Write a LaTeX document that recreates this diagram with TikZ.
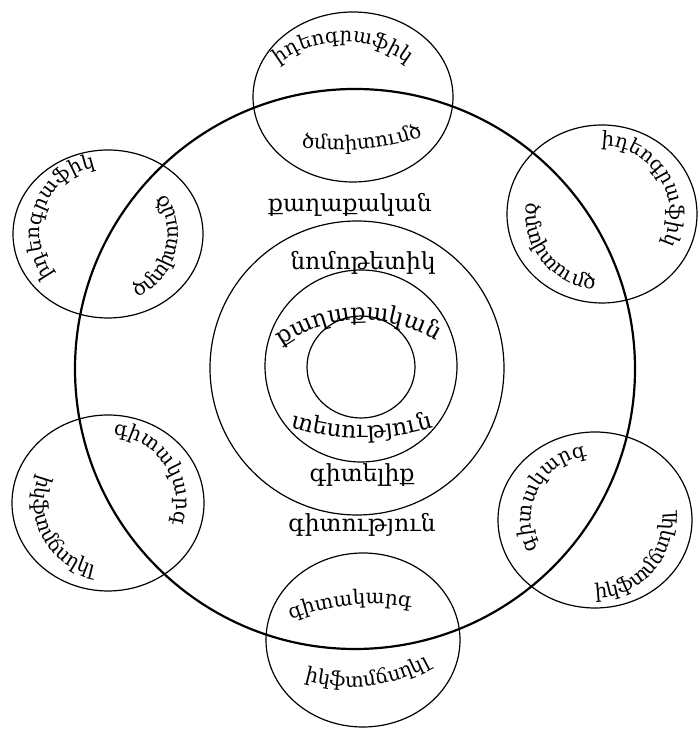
\documentclass[tikz,border=0pt]{standalone}
\usepackage{fontspec}
\setmainfont{DejaVu Serif}
\usetikzlibrary{decorations.text}
\newcommand\bigf{\fontsize{23.5}{26}\selectfont}
\newcommand\smf{\fontsize{20}{22}\selectfont}
\newcommand\cwtext[5]{%
  \path[decorate,decoration={text along path,text align=center,text={#5}}]
   (#1) ++({#3+#4}:#2) arc[start angle={#3+#4}, end angle={#3-#4}, radius=#2];}
\newcommand\ccwtext[5]{%
  \path[decorate,decoration={text along path,text align=center,text={#5}}]
   (#1) ++({#3-#4}:#2) arc[start angle={#3-#4}, end angle={#3+#4}, radius=#2];}
\begin{document}
\begin{tikzpicture}[x=1pt,y=1pt,
  bigring/.style={draw,line width=2.2pt},
  ring/.style={draw,line width=1.2pt},
  lbl/.style={anchor=base,inner sep=0pt,font=\bigf}]
\useasboundingbox (0,0) rectangle (697,730);
% concentric circles
\draw[bigring] (355,361) circle[radius=280];
\draw[ring] (357,362) circle[radius=147];
\draw[ring] (361,364) circle[radius=96];
\draw[ring] (361,363) ellipse[x radius=54, y radius=51];
% satellite ellipses
\draw[ring] (353,633) ellipse[x radius=100, y radius=85];
\draw[ring] (602,516) ellipse[x radius=95, y radius=89];
\draw[ring] (108,496) ellipse[x radius=95, y radius=84];
\draw[ring] (108,227) ellipse[x radius=96, y radius=88];
\draw[ring] (595,210) ellipse[x radius=97, y radius=88];
\draw[ring] (363,90) ellipse[x radius=97, y radius=87];
% straight labels
\node[lbl] (t1) at (350,518) {քաղաքական};
\node[lbl] (t2) at (363,460) {նոմոթետիկ};
\node[lbl] (t3) at (362,248) {գիտելիք};
\node[lbl] (t4) at (362,198) {գիտություն};
% curved center labels
\cwtext{363,271}{139}{92}{60}{|\bigf|քաղաքական}
\ccwtext{362,527}{235}{270}{40}{|\bigf|տեսություն}
% top ellipse
\cwtext{343,583}{105}{90}{65}{|\smf|իդեոգրաֆիկ}
\ccwtext{340,840}{260}{275}{25}{|\smf|ծմտիտումծ}
% upper right
\cwtext{602,516}{68}{32}{85}{|\smf|իդեոգրաֆիկ}
\ccwtext{602,516}{76}{218}{80}{|\smf|ծմտիտումծ}
% upper left
\cwtext{108,496}{68}{159}{85}{|\smf|իդեոգրաֆիկ}
\ccwtext{108,496}{70}{345}{80}{|\smf|ծմտիտումծ}
% lower left
\cwtext{108,227}{68}{34}{85}{|\smf|գիտակարգ}
\ccwtext{108,227}{74}{208}{80}{|\smf|իկֆտմճսղկլ}
% lower right
\cwtext{595,210}{64}{152}{85}{|\smf|գիտակարգ}
\ccwtext{595,210}{78}{318}{80}{|\smf|իկֆտմճսղկլ}
% bottom ellipse
\cwtext{372,-94}{220}{95.7}{35}{|\smf|գիտակարգ}
\ccwtext{350,208}{165}{276.6}{40}{|\smf|իկֆտմճսղկլ}
\end{tikzpicture}
\end{document}
